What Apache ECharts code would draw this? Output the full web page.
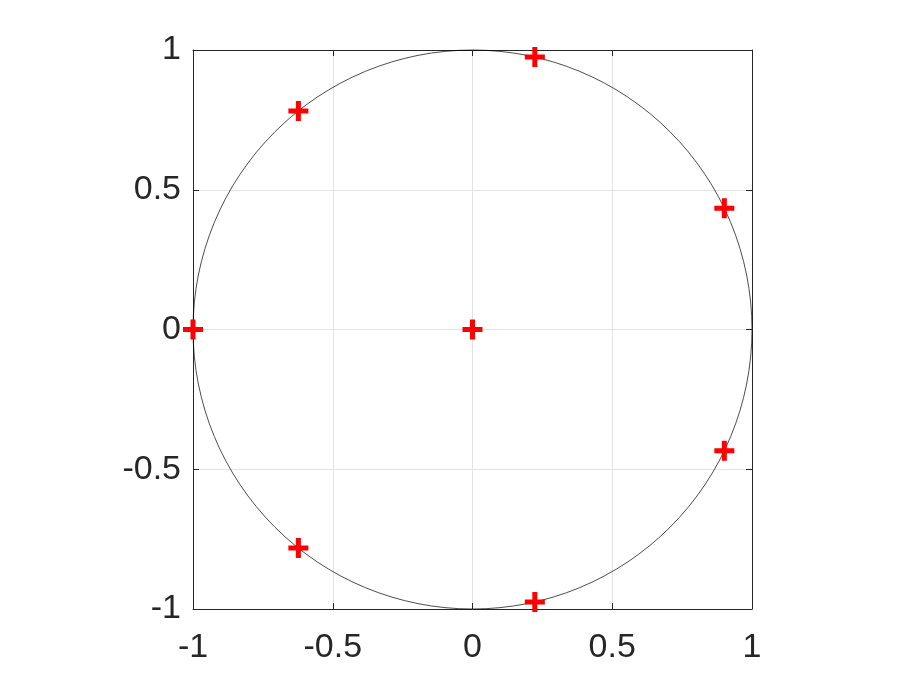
<!DOCTYPE html>
<html><head><meta charset="utf-8">
<script src="https://cdn.jsdelivr.net/npm/echarts@6/dist/echarts.min.js"></script>
<style>html,body{margin:0;padding:0;background:#fff}#c{width:913px;height:685px}</style>
</head><body><div id="c"></div>
<script>
// Tick labels
var xTicks = [-1, -0.5, 0, 0.5, 1];
var yTicks = [-1, -0.5, 0, 0.5, 1];
// Root locations (red + markers)
var rootX = [-1, -0.623, 0.223, 0.901, 0.901, 0.223, -0.623, 0];
var rootY = [0, 0.782, 0.975, 0.434, -0.434, -0.975, -0.782, 0];
// Unit circle: center and radius
var circleCenter = [0, 0];
var circleRadius = [1];

var pts = rootX.map(function (x, i) { return [x, rootY[i]]; });
var plusPath = 'path://M-1,-0.25L-0.25,-0.25L-0.25,-1L0.25,-1L0.25,-0.25L1,-0.25L1,0.25L0.25,0.25L0.25,1L-0.25,1L-0.25,0.25L-1,0.25Z';

var labelStyle = { color: '#262626', fontSize: 34, fontFamily: 'Liberation Sans, Arial, sans-serif',
  formatter: function (v) { return String(v); } };

var axisMain = function (margin) {
  return {
    min: -1, max: 1, interval: 0.5,
    axisLine: { show: true, onZero: false, lineStyle: { color: '#262626', width: 1 } },
    axisTick: { show: true, inside: true, length: 6, lineStyle: { color: '#262626' } },
    splitLine: { show: true, lineStyle: { color: '#e3e3e3', width: 1 } },
    axisLabel: Object.assign({ margin: margin }, labelStyle)
  };
};
var axisMirror = {
  min: -1, max: 1, interval: 0.5,
  axisLine: { show: true, onZero: false, lineStyle: { color: '#262626', width: 1 } },
  axisTick: { show: true, inside: true, length: 6, lineStyle: { color: '#262626' } },
  splitLine: { show: false }, axisLabel: { show: false }
};

var chart = echarts.init(document.getElementById('c'), null, { renderer: 'canvas' });
chart.setOption({
  animation: false,
  backgroundColor: '#fff',
  grid: { left: 193, right: 161, top: 50, bottom: 76, containLabel: false },
  xAxis: [
    Object.assign({ type: 'value', position: 'bottom' }, axisMain(22)),
    Object.assign({ type: 'value', position: 'top' }, axisMirror)
  ],
  yAxis: [
    Object.assign({ type: 'value', position: 'left' }, axisMain(12)),
    Object.assign({ type: 'value', position: 'right' }, axisMirror)
  ],
  series: [
    {
      type: 'custom',
      data: [[circleCenter[0], circleCenter[1], circleRadius[0]]],
      clip: false,
      renderItem: function (params, api) {
        var c = api.coord([api.value(0), api.value(1)]);
        var s = api.size([api.value(2), api.value(2)]);
        return { type: 'circle', shape: { cx: c[0], cy: c[1], r: s[0] },
          style: { fill: 'none', stroke: '#000', lineWidth: 0.7 } };
      },
      z: 2
    },
    {
      type: 'scatter', data: pts, symbol: plusPath, symbolSize: 20,
      itemStyle: { color: '#ff0000', opacity: 1 }, z: 3
    }
  ]
});
</script></body></html>
